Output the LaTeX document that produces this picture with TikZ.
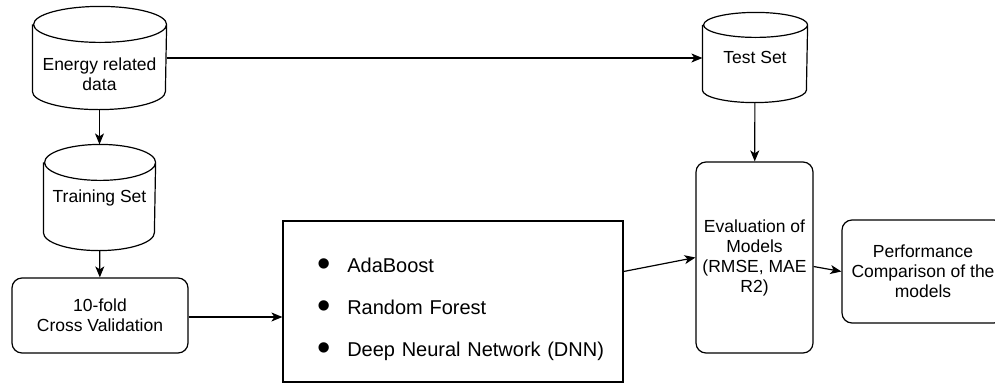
\documentclass[tikz,border=0pt]{standalone}
\usepackage{fontspec}
\setmainfont{Liberation Sans}
\usetikzlibrary{arrows.meta,positioning,calc}
\newcommand{\modelitem}[1]{\hspace*{29pt}\raisebox{-4pt}{\fontsize{38}{0}\selectfont\textbullet}\hspace{17pt}#1}

\begin{document}
\begin{tikzpicture}[
      x=1pt,y=-1pt,
      line width=1.2pt,
      % store={width}{height}{radius of the end ellipses}
      store/.style n args={3}{minimum width=#1pt,minimum height=#2pt,inner sep=0pt,align=center,
        font=\fontsize{17.5}{20}\selectfont,
        append after command={\pgfextra{
          \draw ([yshift=-#3pt]\tikzlastnode.north west) -- ([yshift=#3pt]\tikzlastnode.south west)
            arc[start angle=180,end angle=360,x radius=#1pt/2,y radius=#3pt]
            -- ([yshift=-#3pt]\tikzlastnode.north east)
            arc[start angle=0,end angle=360,x radius=#1pt/2,y radius=#3pt];}}},
      stage/.style={draw,rounded corners=10pt,align=center,font=\fontsize{17.5}{20}\selectfont},
      arrow/.style={-{Stealth[length=11pt,width=9pt,inset=3pt]}}
    ]
      \useasboundingbox (0,0) rectangle (995,386);
      % data sets
      \node[store={133}{102}{18}] (energy) at (99.5,58) {\rule{0pt}{46pt}Energy related\\data};
      \node[store={111}{105}{18}] (train) at (99.5,197.5) {Training Set};
      \node[store={104}{89}{12.5}] (test) at (755,57.5) {Test Set};
      % processing steps
      \node[stage,minimum width=176pt,minimum height=75pt] (cv) at (100,315.5) {10-fold\\Cross Validation};
      \node[draw,minimum width=340pt,minimum height=161pt,text width=330pt,inner xsep=5pt,align=left,
            font=\fontsize{20}{42}\selectfont] (models) at (453,301.5)
            {\rule{0pt}{30pt}\modelitem{AdaBoost}\\ \modelitem{Random Forest}\\ \modelitem{Deep Neural Network (DNN)}};
      \node[stage,minimum width=117pt,minimum height=191pt] (eval) at (754.5,257.5) {Evaluation of\\Models\\(RMSE, MAE\\R2)};
      \node[stage,minimum width=162pt,minimum height=103pt] (perf) at (923,271.5) {Performance\\Comparison of the\\models};
      % connectors
      \draw[arrow] (energy) -- (train);
      \draw[arrow] (train) -- (cv);
      \draw[arrow] (energy.east) -- (energy.east -| test.west);
      \draw[arrow] (test) -- (eval);
      \draw[arrow] ([yshift=-1.5pt]cv.east) -- ([yshift=-1.5pt]cv.east -| models.west);
      \draw[arrow] ([yshift=30pt]models.east) -- (eval.west);
      \draw[arrow] ([yshift=-9pt]eval.east) -- (perf.west);
    \end{tikzpicture}
\end{document}
